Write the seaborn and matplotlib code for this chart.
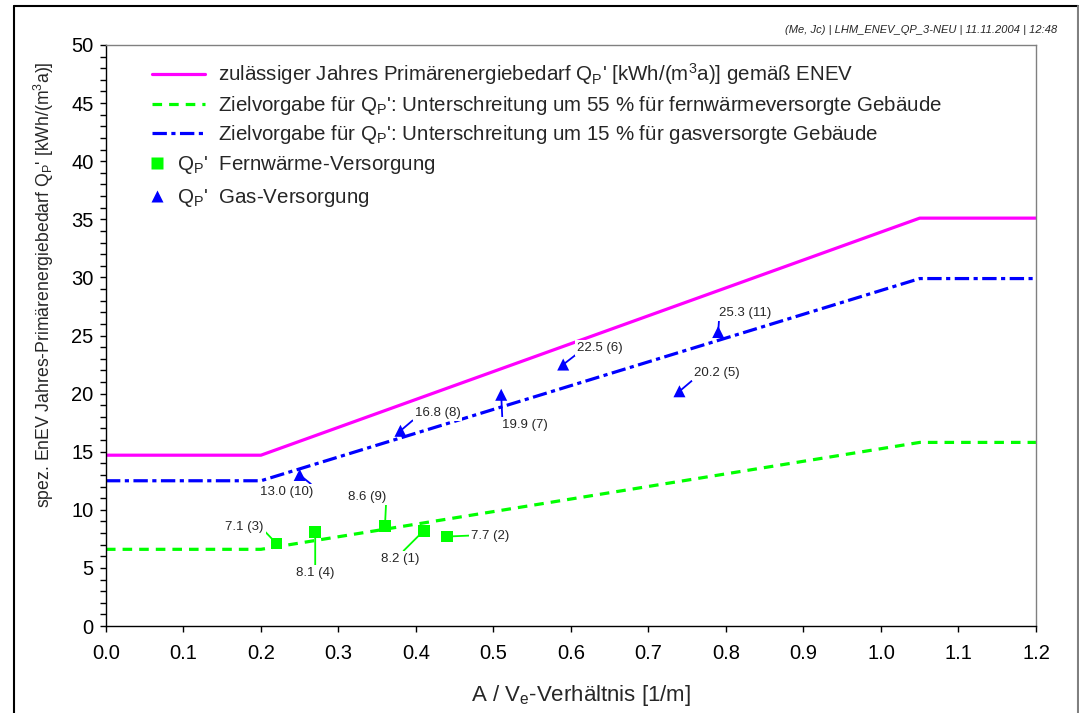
import matplotlib
matplotlib.use("Agg")
import matplotlib.pyplot as plt
import seaborn as sns
from matplotlib.lines import Line2D
from matplotlib.ticker import MultipleLocator

# Grenzwertlinien (Knickpunkte A/Ve)
x_grenz = [0.0, 0.2, 1.05, 1.2]
qp_enev = [14.7, 14.7, 35.1, 35.1]
qp_fern = [6.6, 6.6, 15.8, 15.8]
qp_gas = [12.5, 12.5, 29.9, 29.9]

# Objekte Fernwaerme
fern_av = [0.41, 0.44, 0.22, 0.27, 0.36]
fern_qp = [8.2, 7.7, 7.1, 8.1, 8.6]
fern_nr = [1, 2, 3, 4, 9]

# Objekte Gas
gas_av = [0.74, 0.59, 0.51, 0.38, 0.25, 0.79]
gas_qp = [20.2, 22.5, 19.9, 16.8, 13.0, 25.3]
gas_nr = [5, 6, 7, 8, 10, 11]

# Beschriftungsversatz in Pixel (dx, dy) und Ankerpunkt der Fuehrungslinie
fern_off = [(-24, -28), (43, 1), (-32, 17), (0, -41), (-18, 29)]
fern_rel = [(0.55, 1), (0, 0.5), (1, 0.2), (0.5, 1), (1, 0)]
gas_off = [(37, 18), (37, 17), (24, -30), (37, 18), (-13, -17), (27, 19)]
gas_rel = [(0, 0), (0, 0), (0, 1), (0, 0), (1, 1), (0, 0)]

MAGENTA = "#FF00FF"
GRUEN = "#00FF00"
BLAU = "#0000FF"
STRICH_GRUEN = (0, (3, 2.2))
STRICH_BLAU = (0, (4.5, 1.4, 1.3, 1.4))

sns.set_theme(style="ticks")
plt.rcParams["font.family"] = ["Liberation Sans", "DejaVu Sans"]
plt.rcParams["mathtext.fontset"] = "custom"
plt.rcParams["mathtext.rm"] = "Liberation Sans"
plt.rcParams["mathtext.it"] = "Liberation Sans:italic"
plt.rcParams["mathtext.default"] = "rm"

fig = plt.figure(figsize=(10.79, 7.13), dpi=100)
ax = fig.add_axes([0.0982, 0.1220, 0.8619, 0.8149])

lbl_enev = "zulässiger Jahres Primärenergiebedarf Q$_\\mathrm{P}$' [kWh/(m$^3$a)] gemäß ENEV"
lbl_fern = "Zielvorgabe für Q$_\\mathrm{P}$': Unterschreitung um 55 % für fernwärmeversorgte Gebäude"
lbl_gas = "Zielvorgabe für Q$_\\mathrm{P}$': Unterschreitung um 15 % für gasversorgte Gebäude"

sns.lineplot(x=x_grenz, y=qp_enev, color=MAGENTA, lw=2.3, ax=ax, zorder=2)
sns.lineplot(x=x_grenz, y=qp_fern, color=GRUEN, lw=2.3, linestyle=STRICH_GRUEN, ax=ax, zorder=2)
sns.lineplot(x=x_grenz, y=qp_gas, color=BLAU, lw=2.3, linestyle=STRICH_BLAU, ax=ax, zorder=2)

sns.scatterplot(x=fern_av, y=fern_qp, marker="s", color=GRUEN, s=70, edgecolor="none", ax=ax, zorder=5)
sns.scatterplot(x=gas_av, y=gas_qp, marker="^", color=BLAU, s=75, edgecolor="none", ax=ax, zorder=5)

# Beschriftungen mit Fuehrungslinien
for xv, yv, n, off, rel in zip(fern_av, fern_qp, fern_nr, fern_off, fern_rel):
    ax.annotate(f"{yv:.1f} ({n})", xy=(xv, yv), xytext=off, textcoords="offset pixels",
                ha="center", va="center", fontsize=9.5, zorder=6,
                bbox=dict(boxstyle="square,pad=0.15", fc="white", ec="none"),
                arrowprops=dict(arrowstyle="-", color=GRUEN, lw=1.3, shrinkA=0, shrinkB=0, relpos=rel))
for xv, yv, n, off, rel in zip(gas_av, gas_qp, gas_nr, gas_off, gas_rel):
    ax.annotate(f"{yv:.1f} ({n})", xy=(xv, yv), xytext=off, textcoords="offset pixels",
                ha="center", va="center", fontsize=9.5, zorder=6,
                bbox=dict(boxstyle="square,pad=0.15", fc="white", ec="none"),
                arrowprops=dict(arrowstyle="-", color=BLAU, lw=1.3, shrinkA=0, shrinkB=0, relpos=rel))

ax.set_xlim(0, 1.2)
ax.set_ylim(0, 50)
ax.xaxis.set_major_locator(MultipleLocator(0.1))
ax.yaxis.set_major_locator(MultipleLocator(5))
ax.yaxis.set_minor_locator(MultipleLocator(1))
ax.set_xticklabels([f"{v:.1f}" for v in ax.get_xticks()])
ax.tick_params(axis="both", which="major", direction="out", length=4, width=1,
               labelsize=14.5, colors="black")
ax.tick_params(axis="y", which="major", pad=5)
ax.tick_params(axis="x", which="major", pad=9)
ax.tick_params(axis="y", which="minor", direction="out", length=4, width=1, colors="black")
for s in ["left", "bottom"]:
    ax.spines[s].set_color("black")
    ax.spines[s].set_linewidth(1)
for s in ["top", "right"]:
    ax.spines[s].set_color("#808080")
    ax.spines[s].set_linewidth(1)

ax.set_xlabel("A / V$_\\mathrm{e}$-Verhältnis [1/m]", fontsize=16, labelpad=14)
ax.xaxis.label.set_x(0.511)
ax.set_ylabel("spez. EnEV Jahres-Primärenergiebedarf Q$_\\mathrm{P}$' [kWh/(m$^3$a)]",
              fontsize=12.7, labelpad=11)
ax.yaxis.label.set_y(0.587)

# Legende: Linien
h_lines = [Line2D([], [], color=MAGENTA, lw=2.3),
           Line2D([], [], color=GRUEN, lw=2.3, linestyle=STRICH_GRUEN),
           Line2D([], [], color=BLAU, lw=2.3, linestyle=STRICH_BLAU)]
leg1 = ax.legend(h_lines, [lbl_enev, lbl_fern, lbl_gas], loc="upper left",
                 bbox_to_anchor=(0.0495, 0.972), frameon=False, fontsize=14.8,
                 borderpad=0, borderaxespad=0, handlelength=2.57, handletextpad=0.63,
                 labelspacing=0.32)
ax.add_artist(leg1)

# Legende: Punkte
h_pts = [Line2D([], [], marker="s", color=GRUEN, ls="none", ms=8, mec="none"),
         Line2D([], [], marker="^", color=BLAU, ls="none", ms=8, mec="none")]
ax.legend(h_pts, ["Q$_\\mathrm{P}$'  Fernwärme-Versorgung", "Q$_\\mathrm{P}$'  Gas-Versorgung"],
          loc="upper left", bbox_to_anchor=(0.0495, 0.8128), frameon=False, fontsize=14.8,
          borderpad=0, borderaxespad=0, handlelength=0.53, handletextpad=0.68,
          labelspacing=0.55)

# Kopfzeile
fig.text(0.98, 0.958, "(Me, Jc) | LHM_ENEV_QP_3-NEU | 11.11.2004 | 12:48",
         ha="right", va="center", fontsize=8, style="italic")

# Rahmen um die Grafik
fig.add_artist(Line2D([0.013, 0.013], [-0.01, 0.9916], color="black", lw=1.5, transform=fig.transFigure))
fig.add_artist(Line2D([0.013, 0.999], [0.9916, 0.9916], color="black", lw=1.5, transform=fig.transFigure))
fig.add_artist(Line2D([0.999, 0.999], [-0.01, 0.9916], color="#808080", lw=1.5, transform=fig.transFigure))

fig.savefig("out.png", dpi=100)
